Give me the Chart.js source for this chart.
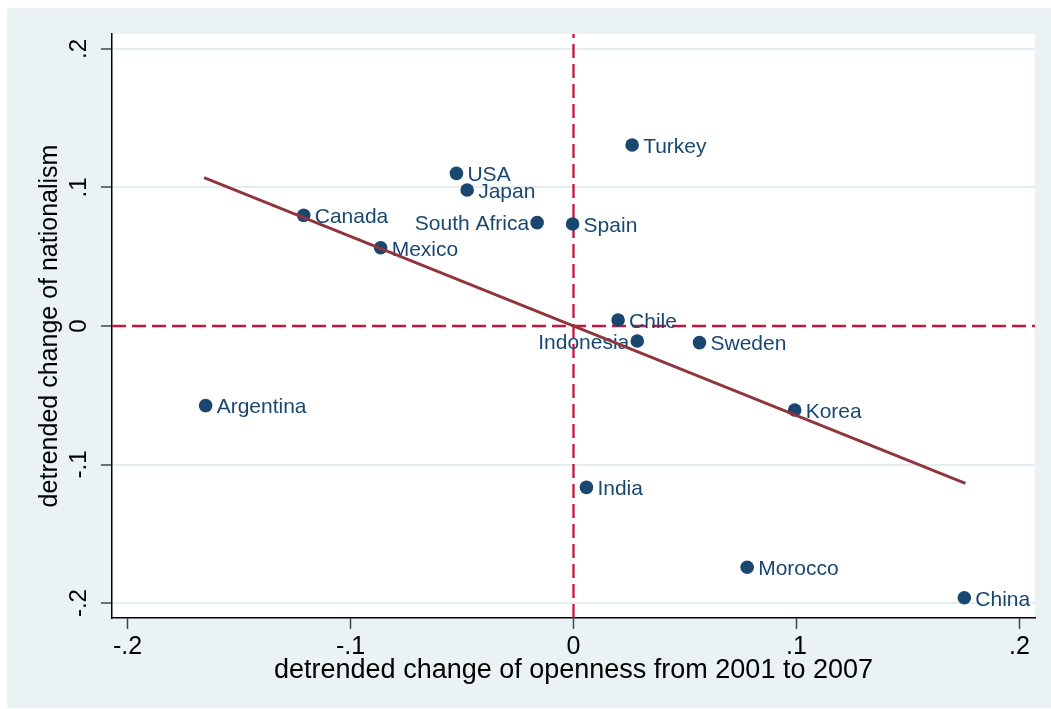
<!DOCTYPE html>
<html>
<head>
<meta charset="utf-8">
<title>Openness and nationalism</title>
<script src="https://cdn.jsdelivr.net/npm/chart.js@4.4.1/dist/chart.umd.min.js"></script>
<style>
  html, body { margin: 0; padding: 0; background: #ffffff; }
  #wrap { width: 1051px; height: 709px; }
</style>
</head>
<body>
<div id="wrap"><canvas id="chart" width="1051" height="709"></canvas></div>
<script>
// Country-level detrended changes, 2001 to 2007
const countries = ['Argentina', 'Canada', 'Mexico', 'USA', 'Japan', 'South Africa', 'Spain',
  'Turkey', 'Chile', 'Indonesia', 'Sweden', 'Korea', 'India', 'Morocco', 'China'];
const openness = [-0.165, -0.121, -0.0865, -0.0525, -0.0477, -0.0163, -0.0004,
  0.0263, 0.0200, 0.0286, 0.0565, 0.0992, 0.0058, 0.0779, 0.1753];
const nationalism = [-0.0575, 0.0799, 0.0565, 0.1102, 0.0982, 0.0746, 0.0736,
  0.1307, 0.0043, -0.0108, -0.0120, -0.0606, -0.1165, -0.1742, -0.1962];
// Which side of the marker each name sits on
const labelSide = ['right', 'right', 'right', 'right', 'right', 'left', 'right',
  'right', 'right', 'left', 'right', 'right', 'right', 'right', 'right'];

// Linear fit, evaluated at the ends of the openness range
const fitX = [-0.1657, 0.1758];
const fitY = [0.1071, -0.1136];

// Axes
const tickValues = [-0.2, -0.1, 0, 0.1, 0.2];
const tickText = ['-.2', '-.1', '0', '.1', '.2'];
const xRange = [-0.207, 0.207];
const yRange = [-0.2108, 0.2108];
const refX = 0;
const refY = 0;

const FONT = '"Liberation Sans", Arial, Helvetica, sans-serif';
const NAVY = '#1a476f';
const MAROON = '#90353b';
const CRANBERRY = '#c8143f';
const PANEL = '#eaf2f3';

const backdrop = {
  id: 'backdrop',
  beforeDraw(chart) {
    const { ctx, width, height, chartArea: a } = chart;
    ctx.save();
    ctx.fillStyle = '#ffffff';
    ctx.fillRect(0, 0, width, height);
    ctx.fillStyle = PANEL;
    ctx.fillRect(7, 8, width - 7, height - 9);
    ctx.fillStyle = '#ffffff';
    ctx.fillRect(a.left, a.top, a.right - a.left, a.bottom - a.top);
    ctx.restore();
  }
};

const pointNames = {
  id: 'pointNames',
  afterDatasetDraw(chart, args) {
    if (args.meta.label !== 'countries') return;
    const ctx = chart.ctx;
    ctx.save();
    ctx.font = '21px ' + FONT;
    ctx.fillStyle = NAVY;
    ctx.textBaseline = 'middle';
    args.meta.data.forEach((pt, i) => {
      if (labelSide[i] === 'left') {
        ctx.textAlign = 'right';
        ctx.fillText(countries[i], pt.x - 8, pt.y + 2);
      } else {
        ctx.textAlign = 'left';
        ctx.fillText(countries[i], pt.x + 11, pt.y + 2);
      }
    });
    ctx.restore();
  }
};

const fixedTicks = (scale) => { scale.ticks = tickValues.map(v => ({ value: v })); };

new Chart(document.getElementById('chart'), {
  type: 'scatter',
  data: {
    datasets: [
      {
        label: 'fit',
        type: 'line',
        data: fitX.map((x, i) => ({ x, y: fitY[i] })),
        borderColor: MAROON,
        borderWidth: 2.8,
        pointRadius: 0,
        fill: false,
        order: 0
      },
      {
        label: 'countries',
        data: openness.map((x, i) => ({ x, y: nationalism[i] })),
        backgroundColor: NAVY,
        borderColor: NAVY,
        borderWidth: 0,
        pointRadius: 6.8,
        order: 1
      },
      {
        label: 'xref',
        type: 'line',
        data: [{ x: refX, y: yRange[0] }, { x: refX, y: yRange[1] }],
        borderColor: CRANBERRY,
        borderWidth: 2.3,
        borderDash: [14, 6],
        pointRadius: 0,
        fill: false,
        order: 2
      },
      {
        label: 'yref',
        type: 'line',
        data: [{ x: xRange[0], y: refY }, { x: xRange[1], y: refY }],
        borderColor: CRANBERRY,
        borderWidth: 2.3,
        borderDash: [14, 6],
        pointRadius: 0,
        fill: false,
        order: 2
      }
    ]
  },
  options: {
    responsive: false,
    animation: false,
    devicePixelRatio: 1,
    layout: { padding: { left: 7, top: 34, right: 16, bottom: 1 } },
    plugins: { legend: { display: false }, tooltip: { enabled: false } },
    scales: {
      x: {
        type: 'linear',
        position: 'bottom',
        min: xRange[0],
        max: xRange[1],
        afterBuildTicks: fixedTicks,
        afterFit: (s) => { s.height = 90; },
        ticks: {
          callback: (v, i) => tickText[i],
          font: { family: FONT, size: 25 },
          color: '#000000',
          padding: 3,
          maxRotation: 0,
          autoSkip: false
        },
        grid: { drawOnChartArea: false, tickLength: 11, tickColor: '#444444', tickWidth: 1.5 },
        border: { display: true, color: '#000000', width: 1.5 },
        title: {
          display: true,
          text: 'detrended change of openness from 2001 to 2007',
          font: { family: FONT, size: 27 },
          color: '#000000',
          padding: { top: 0, bottom: 21 }
        }
      },
      y: {
        type: 'linear',
        position: 'left',
        min: yRange[0],
        max: yRange[1],
        afterBuildTicks: fixedTicks,
        afterFit: (s) => { s.width = 105; },
        ticks: {
          callback: (v, i) => tickText[i],
          font: { family: FONT, size: 24 },
          color: '#000000',
          padding: 8,
          minRotation: 90,
          maxRotation: 90,
          crossAlign: 'center',
          autoSkip: false
        },
        grid: {
          drawOnChartArea: true,
          color: (c) => (c.tick && c.tick.value === 0 ? 'rgba(0,0,0,0)' : '#e4edf0'),
          lineWidth: 2,
          tickLength: 11,
          tickColor: '#444444',
          tickWidth: 1.5
        },
        border: { display: true, color: '#000000', width: 1.5 },
        title: {
          display: true,
          text: 'detrended change of nationalism',
          font: { family: FONT, size: 25 },
          color: '#000000',
          padding: { top: 28, bottom: 0 }
        }
      }
    }
  },
  plugins: [backdrop, pointNames]
});
</script>
</body>
</html>
